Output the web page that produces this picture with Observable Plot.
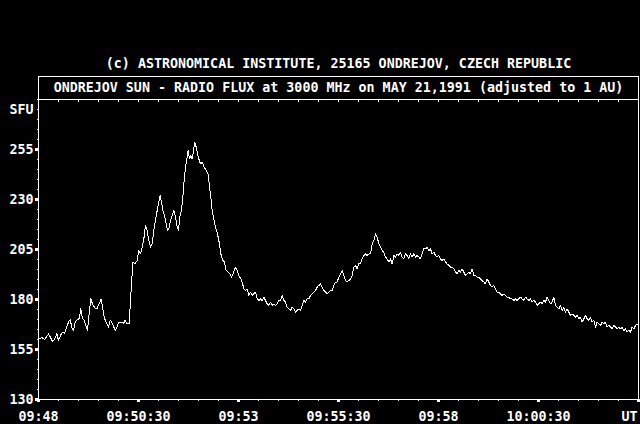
<!DOCTYPE html>
<html><head><meta charset="utf-8">
<script src="https://cdn.jsdelivr.net/npm/d3@7"></script>
<script src="https://cdn.jsdelivr.net/npm/@observablehq/plot@0.6"></script>
<style>
html,body{margin:0;padding:0;background:#000;}
#wrap{position:relative;width:640px;height:424px;background:#000;overflow:hidden;font-family:"DejaVu Sans Mono",monospace;font-size:13.33px;font-weight:bold;color:#fff;}
#title{position:absolute;left:38px;width:601px;top:56px;text-align:center;line-height:16px;white-space:pre;}
#box{position:absolute;left:38px;top:76px;width:601px;height:23px;box-sizing:border-box;border:1px solid #fff;border-bottom:none;}
#subtitle{position:absolute;left:0;right:0;top:3px;text-align:center;line-height:16px;white-space:pre;}
#chart{position:absolute;left:0;top:99px;}
</style></head>
<body><div id="wrap"><div id="title"></div><div id="box"><div id="subtitle"></div></div><div id="chart"></div></div>
<script>
const titleText = "(c) ASTRONOMICAL INSTITUTE, 25165 ONDREJOV, CZECH REPUBLIC";
const subtitleText = "ONDREJOV SUN - RADIO FLUX at 3000 MHz on MAY 21,1991 (adjusted to 1 AU)";
const startUT = "1991-05-21T09:48:00Z";
const endUT = "1991-05-21T10:03:00Z";

// seconds after 09:48:00 UT
const seconds = [
0,5,9,12.5,15,18,21,24,27.5,30,33,36,39,42,45,47.5,50,52.5,55,57.5,61,63.5,66,68.5,71,73.5,76,78.5,81,84,87.5,91,94,96,99,102.5,105,107.5,111,115,117.5,120,124,127.5,130,132.5,136,139,
141.5,144.5,148,150.5,153,155.5,158,160.5,163,165.5,168,170.5,173,175.5,178,180.5,182.5,184.5,186.5,189.5,191.5,193.5,195.5,198,200.5,203,205.5,208,210,212,214.5,216.5,218.5,220.5,222.5,224.5,226.5,228.5,230.5,232.5,234.5,236.5,238.5,240.5,243,245.5,248.5,251.5,254.5,256.5,258.5,260.5,263,265.5,268.5,271.5,273.5,276.5,279,281.5,284.5,287,289.5,292,295.5,298,300.5,303.5,
305.5,308,310.5,313,315.5,318,320.5,323,325.5,328,330.5,333,335.5,338,340.5,343,345.5,348,350.5,353,355.5,358,360.5,363,365.5,368,370.5,373,375.5,378,380.5,383,385.5,388,390.5,393,395.5,398,400.5,403,405.5,408,410.5,413,415.5,418,420.5,423,425.5,428,430.5,433,435.5,438,440.5,443,445.5,448,450.5,453,455.5,458,460.5,463,465.5,468,470.5,473,475.5,478,480.5,483,485.5,488,490.5,493,495.5,498,500.5,503,505.5,508,510.5,513,515.5,518,
520.5,523,525.5,528,530.5,533,535.5,538,540.5,543,545.5,548,550.5,553,555.5,558,560.5,563,565.5,568,570.5,573,575.5,578,580.5,583,585.5,588,590.5,593,595.5,598,600.5,603,605.5,608,610.5,613,615.5,618,620.5,623,625.5,628,630.5,633,635.5,638,640.5,643,645.5,648,650.5,653,655.5,658,660.5,663,665.5,668,670.5,673,675.5,678,680.5,683,685.5,688,690.5,693,695.5,698,700.5,703,705.5,708,710.5,713,715.5,718,
723,725.5,728,730.5,733,735.5,738,740.5,743,745.5,748,750.5,753,755.5,758,760.5,763,765.5,768,770.5,773,775.5,778,780.5,783,785.5,788,790.5,793,795.5,798,800.5,803,805.5,808,810.5,813,815.5,818,820.5,823,825.5,828,830.5,833,835.5,838,840.5,843,845.5,848,850.5,853,855.5,858,860.5,863,865.5,868,870.5,873,875.5,878,880.5,883,885.5,888,890.5,893,895.5,898,899.5
];
// solar flux units
const flux = [
160.3,161,160,161.5,162.8,161,159,160,163,159.5,162,163.7,163,166,168.7,170,166,164.5,168.7,169.7,170.5,175.3,170.5,169.7,167.2,164.5,172.8,180.3,177.8,176,175.3,177.8,180.3,176,170.5,168,166,169.7,168,164.5,166,168.7,168.7,168,169.7,168,168,185,
198.7,197.8,199.5,204.5,202.8,206.2,210.3,217,214.5,209.5,206.2,207.8,214.5,219.5,224.5,228.7,232,228.7,224.5,221.2,217.8,214.5,215.3,219.5,222,224.5,221.2,216.2,214.5,221.2,224.5,231.2,239.5,246.2,250.3,254.5,250.3,252,250.3,254.5,258.7,256.2,252.8,250.3,247.8,248.7,246.2,244.5,242.8,236.2,231.2,224.5,220.3,216.2,212.8,207.8,202.8,199.5,198.7,194.5,193.7,192.8,191.2,192.8,196.2,194.5,192,190.3,
188.7,185.3,184.5,185.3,182,183.7,182,182.8,183.7,180.3,179.5,180.3,179.5,181.2,179.5,177.8,177,178.7,177,177.8,177,177.8,179.5,179.5,182,179.5,178.7,176.2,175.3,174.5,176.2,175.3,173.7,174.5,175.3,174.5,177,179.5,178.7,180.3,180.3,182,182.8,183.7,184.5,186.2,187,187.8,186.2,184.5,183.7,182.8,183.7,184.5,184.5,187,188.7,188.7,191.2,192.8,194.5,192,189.5,188.7,189.5,190.3,192,196.2,197,195.3,197.8,197.8,200.3,202,202.8,202,202.8,202.8,207.8,209.5,212.8,211.2,207.8,206.2,204.5,203.7,
201.2,200.3,198.7,200.3,197.8,202,201.2,202.8,202,203.7,201.2,200.3,202.8,202,200.3,202.8,201.2,202.8,201.2,202,201.2,200.3,202.8,205.3,205.3,206.2,204.5,205.3,202.8,203.7,202,201.2,202,200.3,199.5,200.3,198.7,197.8,197,196.2,196.2,195.3,193.7,192.8,194.5,193.7,195.3,193.7,192,192.8,193.7,192.8,195.3,192,192,191.2,191.2,190.3,189.5,188.7,187.8,190.3,188.7,187,186.2,187,185.3,183.7,183.7,182.8,182,182.8,182,181.2,181.2,180.3,180.3,179.5,180.3,179.5,
181.2,180.3,179.5,181.2,180.3,179.5,180.3,178.7,179.5,178.7,177,177.8,178.7,177.8,179.5,178.7,181.2,179.5,177.8,178.7,181.2,177,176.2,175.3,177,174.5,176.2,173.7,175.3,173.7,172,172.8,172,171.2,172,170.3,171.2,168.7,170.3,172,170.3,169.5,171.2,168.7,169.5,166.2,168.7,167.8,167,168.7,167.8,168.7,166.2,167,166.2,165.3,167,166.2,165.3,166.2,165.3,166.2,164.5,165.3,163.7,164.5,163.7,166.2,165.3,167,167.8,167
];

const yTicks = [130, 155, 180, 205, 230, 255];
const yUnit = "SFU";
const xTickLabels = ["09:48", "09:50:30", "09:53", "09:55:30", "09:58", "10:00:30"];
const xUnit = "UT";

document.getElementById("title").textContent = titleText;
document.getElementById("subtitle").textContent = subtitleText;

const t0 = new Date(startUT);
const t1 = new Date(endUT);
const toDate = s => new Date(t0.getTime() + s * 1000);
const data = seconds.map((s, i) => ({time: toDate(s), flux: flux[i]}));

const majorX = d3.range(0, 901, 150).map(toDate);
const minorX = d3.range(0, 901, 30).map(toDate);
const minorY = d3.range(130, 281, 5);
const labelFor = d => xTickLabels[Math.round((d - t0) / 150000)] ?? "";

const chart = Plot.plot({
  width: 640,
  height: 325,
  marginLeft: 38,
  marginRight: 2,
  marginTop: 0,
  marginBottom: 25,
  style: {background: "#000", color: "#fff", fontFamily: "DejaVu Sans Mono, monospace", fontSize: "13.33px", fontWeight: "bold"},
  x: {type: "utc", domain: [t0, t1], label: null},
  y: {domain: [130, 280], label: null},
  marks: [
    Plot.ruleY([130, 280], {stroke: "#fff", shapeRendering: "crispEdges"}),
    Plot.ruleX([t0, t1], {stroke: "#fff", shapeRendering: "crispEdges"}),
    Plot.axisY(minorY, {text: null, tickSize: 1, label: null, shapeRendering: "crispEdges"}),
    Plot.axisY(yTicks, {text: null, tickSize: 3, strokeWidth: 3, label: null, shapeRendering: "crispEdges"}),
    Plot.axisY(yTicks, {tickSize: 0, tickPadding: 5, label: null}),
    Plot.text([275], {y: d => d, text: () => yUnit, frameAnchor: "left", textAnchor: "end", dx: -5, fill: "#fff"}),
    Plot.axisX(minorX, {text: null, tickSize: 2, label: null, shapeRendering: "crispEdges"}),
    Plot.axisX(majorX, {text: null, tickSize: 3, strokeWidth: 3, label: null, shapeRendering: "crispEdges"}),
    Plot.axisX(minorX, {anchor: "top", text: null, tickSize: -2, label: null, shapeRendering: "crispEdges"}),
    Plot.axisX(majorX.slice(0, 6), {tickSize: 0, tickPadding: 12, tickFormat: labelFor, label: null}),
    Plot.text([t1], {x: d => d, text: () => xUnit, frameAnchor: "bottom", lineAnchor: "top", textAnchor: "end", dy: 12, dx: -1, fill: "#fff"}),
    Plot.line(data, {x: "time", y: "flux", stroke: "#fff", strokeWidth: 1, shapeRendering: "crispEdges"})
  ]
});
document.getElementById("chart").appendChild(chart);
</script>
</body></html>
